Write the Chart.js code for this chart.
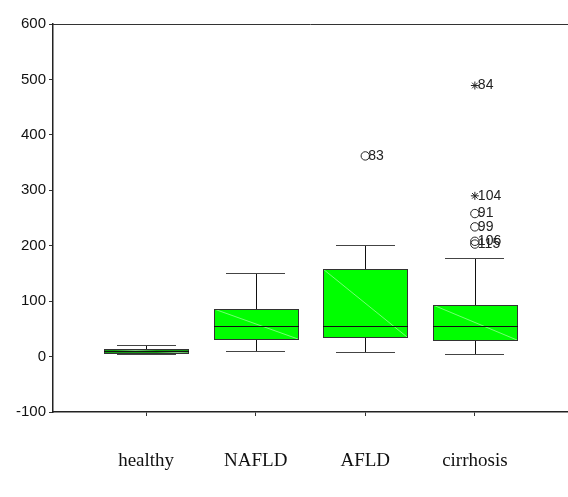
<!DOCTYPE html>
<html>
<head>
<meta charset="utf-8">
<script src="https://cdn.jsdelivr.net/npm/chart.js@4.4.1/dist/chart.umd.min.js"></script>
<style>
  html, body { margin: 0; padding: 0; background: #fff; }
</style>
</head>
<body>
<canvas id="chart" width="568" height="497"></canvas>
<script>
const categories = ['healthy', 'NAFLD', 'AFLD', 'cirrhosis']
const whiskerLow = [4, 10, 9, 5]
const q1 = [6, 32, 35, 29]
const median = [10, 56, 56, 56]
const q3 = [13, 85, 158, 93]
const whiskerHigh = [21, 151, 201, 177]

// outliers (circles) and extremes (stars) with their case numbers
const outlierGroup = [2, 3, 3, 3, 3]
const outlierValue = [362, 258, 234, 208, 203]
const outlierCase = ['83', '91', '99', '106', '115']
const extremeGroup = [3, 3]
const extremeValue = [489, 290]
const extremeCase = ['84', '104']

const yMin = -100
const yMax = 600
const yStep = 100

const boxWidth = 0.77
const capWidth = 0.54
// the very flat healthy box reads darker in the original
const boxFill = ['#159c15', '#00ff00', '#00ff00', '#00ff00']

const snap = (v) => Math.round(v) + 0.5

// draws boxes, whiskers and medians through the chart scales
const boxPlot = {
  id: 'boxPlot',
  beforeDatasetsDraw(chart) {
    const { ctx, chartArea, scales: { x, y } } = chart
    ctx.save()

    // top frame line
    ctx.strokeStyle = '#333'
    ctx.lineWidth = 1
    ctx.beginPath()
    ctx.moveTo(chartArea.left, snap(chartArea.top))
    ctx.lineTo(chartArea.right, snap(chartArea.top))
    ctx.stroke()

    categories.forEach((c, i) => {
      const cx = x.getPixelForValue(i)
      const bl = Math.round(x.getPixelForValue(i - boxWidth / 2))
      const br = Math.round(x.getPixelForValue(i + boxWidth / 2))
      const cl = Math.round(x.getPixelForValue(i - capWidth / 2))
      const cr = Math.round(x.getPixelForValue(i + capWidth / 2))
      const top = Math.round(y.getPixelForValue(q3[i]))
      const bot = Math.round(y.getPixelForValue(q1[i]))
      const hi = snap(y.getPixelForValue(whiskerHigh[i]))
      const lo = snap(y.getPixelForValue(whiskerLow[i]))
      const med = snap(y.getPixelForValue(median[i]))
      const mx = snap(cx)

      // whiskers
      ctx.strokeStyle = '#111'
      ctx.lineWidth = 1
      ctx.beginPath()
      ctx.moveTo(mx, hi); ctx.lineTo(mx, top)
      ctx.moveTo(mx, bot); ctx.lineTo(mx, lo)
      ctx.stroke()
      ctx.strokeStyle = '#444'
      ctx.beginPath()
      ctx.moveTo(cl, hi); ctx.lineTo(cr, hi)
      ctx.moveTo(cl, lo); ctx.lineTo(cr, lo)
      ctx.stroke()

      // box
      ctx.fillStyle = boxFill[i]
      ctx.fillRect(bl, top, br - bl, bot - top)
      ctx.strokeStyle = 'rgba(255,255,255,0.45)'
      ctx.beginPath()
      ctx.moveTo(bl, top); ctx.lineTo(br, bot)
      ctx.stroke()
      ctx.strokeStyle = '#333'
      ctx.strokeRect(bl + 0.5, top + 0.5, br - bl, bot - top)

      // median
      ctx.strokeStyle = '#111'
      ctx.beginPath()
      ctx.moveTo(bl, med); ctx.lineTo(br + 1, med)
      ctx.stroke()
    })
    ctx.restore()
  },
  afterDatasetsDraw(chart) {
    const { ctx, scales: { x, y } } = chart
    ctx.save()
    ctx.font = '14px "Liberation Sans", Arial, sans-serif'
    ctx.fillStyle = '#222'
    ctx.textAlign = 'left'
    ctx.textBaseline = 'middle'
    const label = (g, v, t) => {
      ctx.fillText(t, x.getPixelForValue(g) + 3, y.getPixelForValue(v))
    }
    outlierCase.forEach((t, i) => label(outlierGroup[i], outlierValue[i], t))
    extremeCase.forEach((t, i) => label(extremeGroup[i], extremeValue[i], t))
    ctx.restore()
  }
}

const ctx = document.getElementById('chart').getContext('2d')
new Chart(ctx, {
  type: 'scatter',
  data: {
    datasets: [{
      data: outlierValue.map((v, i) => ({ x: outlierGroup[i], y: v })),
      pointStyle: 'circle',
      radius: 4.2,
      borderColor: '#222',
      borderWidth: 1,
      backgroundColor: 'rgba(0,0,0,0)'
    }, {
      data: extremeValue.map((v, i) => ({ x: extremeGroup[i], y: v })),
      pointStyle: 'star',
      radius: 4,
      borderColor: '#222',
      borderWidth: 1
    }]
  },
  options: {
    responsive: false,
    animation: false,
    layout: { autoPadding: false, padding: { top: 24, right: 0, left: 0, bottom: 0 } },
    plugins: {
      legend: { display: false },
      tooltip: { enabled: false }
    },
    scales: {
      x: {
        type: 'linear',
        min: -0.85,
        max: 3.85,
        afterBuildTicks: (s) => { s.ticks = categories.map((c, i) => ({ value: i })) },
        afterFit: (s) => {
          s.height = 85
          s.paddingLeft = 0
          s.paddingRight = 0
        },
        ticks: {
          callback: (v) => categories[v],
          autoSkip: false,
          maxRotation: 0,
          padding: 34,
          color: '#111',
          font: { family: '"Liberation Serif", "Times New Roman", serif', size: 19 }
        },
        grid: { drawOnChartArea: false, tickLength: 4, color: '#333' },
        border: { color: '#222', width: 1.5 }
      },
      y: {
        min: yMin,
        max: yMax,
        afterFit: (s) => { s.width = 53 },
        ticks: {
          stepSize: yStep,
          padding: 3,
          color: '#111',
          font: { family: '"Liberation Sans", Arial, sans-serif', size: 15 }
        },
        grid: { drawOnChartArea: false, tickLength: 4, color: '#333' },
        border: { color: '#222', width: 1.5 }
      }
    }
  },
  plugins: [boxPlot]
})
</script>
</body>
</html>
